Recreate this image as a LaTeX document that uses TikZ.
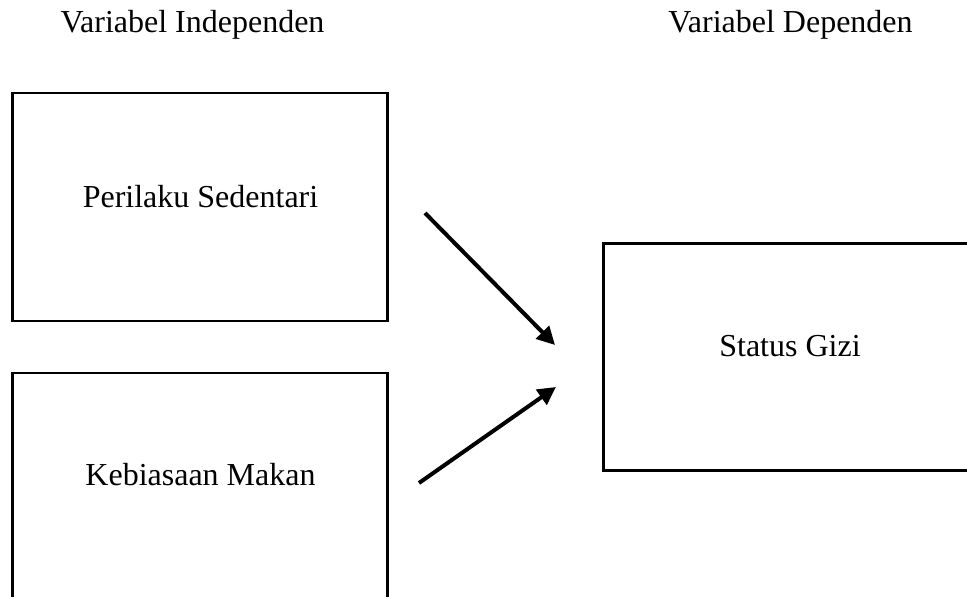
\documentclass[tikz,border=0pt]{standalone}
\usepackage{fontspec}
\setmainfont{Liberation Serif}
\usetikzlibrary{arrows.meta}
\begin{document}
\begin{tikzpicture}[x=0.5pt,y=-0.5pt,
  varbox/.style={draw=black, line width=1.1pt, minimum width=187.5pt, minimum height=114pt, inner sep=0pt},
  txt/.style={font=\fontsize{16}{19}\selectfont, anchor=base, inner sep=0pt},
  arr/.style={line width=2pt, -{Triangle[length=9pt,width=9pt]}}]
\useasboundingbox (0,0) rectangle (967,597);
\node[txt] (h1) at (192.5,33) {Variabel Independen};
\node[txt] (h2) at (790.5,33) {Variabel Dependen};
\node[varbox] (b1) at (200,207.25) {};
\node[varbox] (b2) at (200,487.25) {};
\node[varbox, minimum width=186.5pt, minimum height=113.5pt] (b3) at (790,357.1) {};
\node[txt] (t1) at (200.5,207.5) {Perilaku Sedentari};
\node[txt] (t2) at (200.5,486) {Kebiasaan Makan};
\node[txt] (t3) at (790,356.5) {Status Gizi};
\coordinate (a1s) at (425,213);
\coordinate (a1e) at (555,345);
\coordinate (a2s) at (419,483);
\coordinate (a2e) at (556,387);
\draw[arr] (a1s) -- (a1e);
\draw[arr] (a2s) -- (a2e);
\end{tikzpicture}
\end{document}
